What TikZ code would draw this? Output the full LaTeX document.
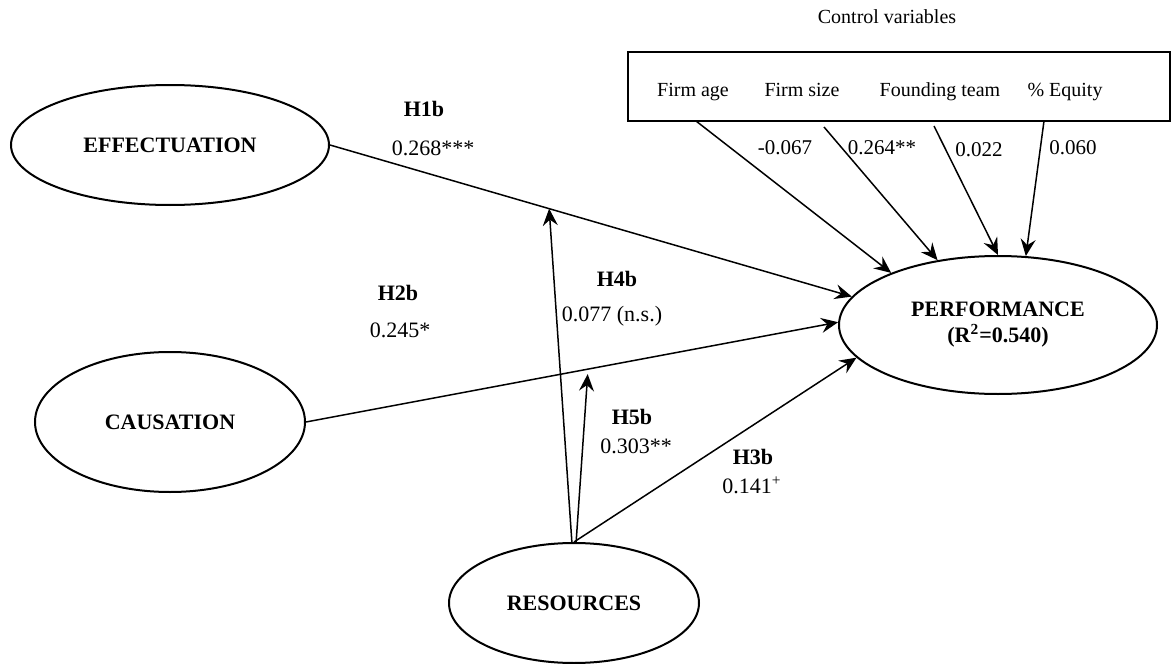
\documentclass[tikz,border=0pt]{standalone}
\usepackage{fontspec}
\setmainfont{Liberation Serif}
\usetikzlibrary{shapes.geometric, arrows.meta}

\begin{document}
\begin{tikzpicture}[x=0.5pt, y=-0.5pt,
  lat/.style={draw, ellipse, line width=1pt, inner sep=0pt, align=center, font=\fontsize{11}{13}\selectfont\bfseries},
  hyp/.style={font=\fontsize{11}{13}\selectfont\bfseries},
  coef/.style={font=\fontsize{11}{13}\selectfont},
  cv/.style={anchor=base, font=\fontsize{10}{12}\selectfont},
  cvc/.style={anchor=base, font=\fontsize{10.5}{12}\selectfont},
  arr/.style={->, line width=0.75pt},
  >={Stealth[length=8.5pt, width=7.5pt, inset=3pt]}]
  \useasboundingbox (0,0) rectangle (1175,664);

  \node[lat, minimum width=159pt, minimum height=60pt] (eff) at (170,145) {EFFECTUATION};
  \node[lat, minimum width=135pt, minimum height=70pt] (caus) at (170,422) {CAUSATION};
  \node[lat, minimum width=125pt, minimum height=60pt] (res) at (574,603) {RESOURCES};
  \node[lat, minimum width=159pt, minimum height=69pt] (perf) at (998,325) {PERFORMANCE\\(R\textsuperscript{2}=0.540)};

  \node[cv] (cvtitle) at (887,24) {Control variables};
  \node[draw, line width=1pt, minimum width=271pt, minimum height=34.5pt] (ctrl) at (899,86.5) {};
  \node[cv] (age) at (693,97) {Firm age};
  \node[cv] (size) at (802,97) {Firm size};
  \node[cv] (team) at (940,97) {Founding team};
  \node[cv] (eq) at (1065,97) {\% Equity};
  \coordinate (age0) at (696,121);
  \coordinate (size0) at (824,127);
  \coordinate (team0) at (934,126);
  \coordinate (eq0) at (1044,121);
  \draw[arr] (age0) -- (perf.154.5);
  \draw[arr] (size0) -- (perf.133.2);
  \draw[arr] (team0) -- (perf.90.8);
  \draw[arr] (eq0) -- (perf.68.5);
  \node[cvc] (cage) at (785,155) {-0.067};
  \node[cvc] (csize) at (882,155) {0.264**};
  \node[cvc] (cteam) at (979,156) {0.022};
  \node[cvc] (ceq) at (1073,155) {0.060};

  \draw[arr] (eff.east) -- coordinate[pos=0.42] (m1) (perf.169.6);
  \draw[arr] (caus.east) -- coordinate[pos=0.53] (m2) (perf.179.6);
  \draw[arr] (res.north) -- (perf.193);
  \draw[arr] (res.92) -- (m1);
  \draw[arr, shorten >=2.5pt] (res.88) -- (m2);

  \node[hyp] (h1) at (424,109) {H1b};
  \node[coef] (c1) at (433,148) {0.268***};
  \node[hyp] (h2) at (398,293) {H2b};
  \node[coef] (c2) at (400,330) {0.245*};
  \node[hyp] (h4) at (617,279) {H4b};
  \node[coef] (c4) at (612,316) {0.077 (n.s.)};
  \node[hyp] (h5) at (632,417) {H5b};
  \node[coef] (c5) at (636,446) {0.303**};
  \node[hyp] (h3) at (753,457) {H3b};
  \node[coef] (c3) at (752,485) {0.141\textsuperscript{+}};
\end{tikzpicture}
\end{document}
